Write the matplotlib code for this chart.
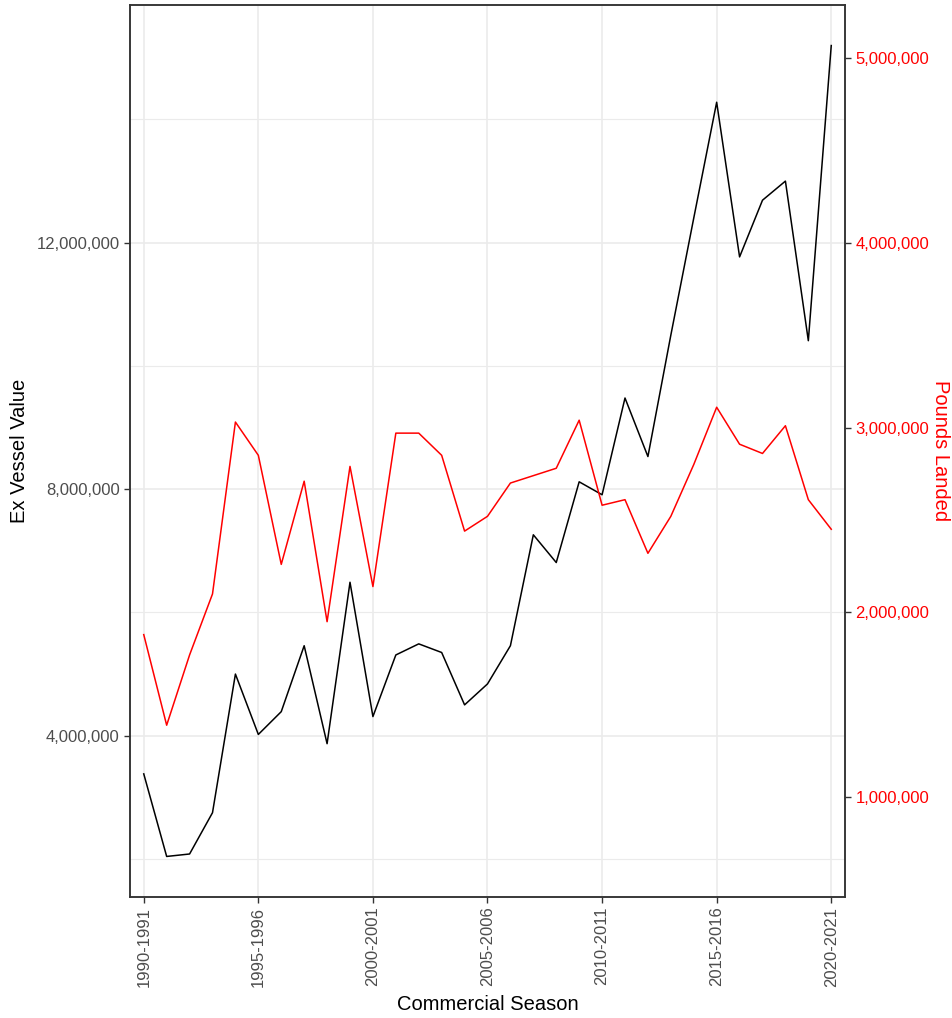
import numpy as np
import matplotlib
matplotlib.use("Agg")
import matplotlib.pyplot as plt
from matplotlib.ticker import FuncFormatter, FixedLocator

plt.rcParams['font.family'] = ['Liberation Sans', 'DejaVu Sans']

# seasons 1990-1991 .. 2020-2021
seasons = [f"{y}-{y + 1}" for y in range(1990, 2021)]

# ex vessel value (left axis, dollars)
ex_vessel = [3.38e6, 2.04e6, 2.08e6, 2.75e6, 5.00e6, 4.02e6, 4.39e6, 5.46e6,
             3.87e6, 6.49e6, 4.31e6, 5.31e6, 5.49e6, 5.35e6, 4.50e6, 4.84e6,
             5.46e6, 7.26e6, 6.81e6, 8.12e6, 7.91e6, 9.48e6, 8.53e6, 10.50e6,
             12.40e6, 14.28e6, 11.77e6, 12.69e6, 13.00e6, 10.41e6, 15.20e6]

# pounds landed (right axis)
pounds = [1.88e6, 1.39e6, 1.77e6, 2.10e6, 3.03e6, 2.85e6, 2.26e6, 2.71e6,
          1.95e6, 2.79e6, 2.14e6, 2.97e6, 2.97e6, 2.85e6, 2.44e6, 2.52e6,
          2.70e6, 2.74e6, 2.78e6, 3.04e6, 2.58e6, 2.61e6, 2.32e6, 2.52e6,
          2.80e6, 3.11e6, 2.91e6, 2.86e6, 3.01e6, 2.61e6, 2.45e6]

scale = 3.0  # secondary axis = primary / 3

x = np.arange(len(seasons))
fig = plt.figure(figsize=(9.53, 10.18), dpi=100)
ax = fig.add_axes([130 / 953, 1 - 897 / 1018, 715 / 953, 892 / 1018])

# ggplot-like limits (5% expansion on combined range)
allv = np.concatenate([np.array(ex_vessel), np.array(pounds) * scale])
lo, hi = allv.min(), allv.max()
pad = (hi - lo) * 0.05
ax.set_ylim(lo - pad, hi + pad)
ax.set_xlim(-0.6, len(seasons) - 1 + 0.6)

# grid
major_y = [4e6, 8e6, 12e6]
minor_y = [2e6, 6e6, 10e6, 14e6]
for v in minor_y:
    ax.axhline(v, color='#EBEBEB', lw=0.8, zorder=0)
for v in major_y:
    ax.axhline(v, color='#EBEBEB', lw=1.2, zorder=0)
xt = x[::5]
for v in xt:
    ax.axvline(v, color='#EBEBEB', lw=1.2, zorder=0)

ax.plot(x, ex_vessel, color='black', lw=1.1, zorder=3)

ax.yaxis.set_major_locator(FixedLocator(major_y))
ax.yaxis.set_major_formatter(FuncFormatter(lambda v, p: f"{v:,.0f}"))
ax.set_xticks(xt)
ax.set_xticklabels([seasons[i] for i in xt], rotation=90)
ax.tick_params(axis='both', colors='#333333', labelcolor='#4D4D4D',
               labelsize=12, length=4, width=1)
ax.tick_params(axis='x', pad=3)
for s in ax.spines.values():
    s.set_color('#333333')
    s.set_linewidth(1.1)

ax.set_ylabel("Ex Vessel Value", fontsize=14.5, color='black')
ax.yaxis.set_label_coords(-0.154, 0.5)
ax.yaxis.label.set_verticalalignment('center')
ax.set_xlabel("Commercial Season", fontsize=14.5, color='black', labelpad=6)

ax2 = ax.twinx()
ax2.set_ylim((lo - pad) / scale, (hi + pad) / scale)
ax2.plot(x, pounds, color='red', lw=1.1, zorder=3)
ax2.yaxis.set_major_locator(FixedLocator([1e6, 2e6, 3e6, 4e6, 5e6]))
ax2.yaxis.set_major_formatter(FuncFormatter(lambda v, p: f"{v:,.0f}"))
ax2.tick_params(axis='y', colors='#333333', labelcolor='red',
                labelsize=12, length=4, width=1)
for s in ax2.spines.values():
    s.set_color('#333333')
    s.set_linewidth(1.1)
ax2.set_ylabel("Pounds Landed", fontsize=14.5, color='red', rotation=270)
ax2.yaxis.set_label_coords(1.133, 0.5)
ax2.yaxis.label.set_verticalalignment('center')

fig.savefig("out.png", dpi=100)
